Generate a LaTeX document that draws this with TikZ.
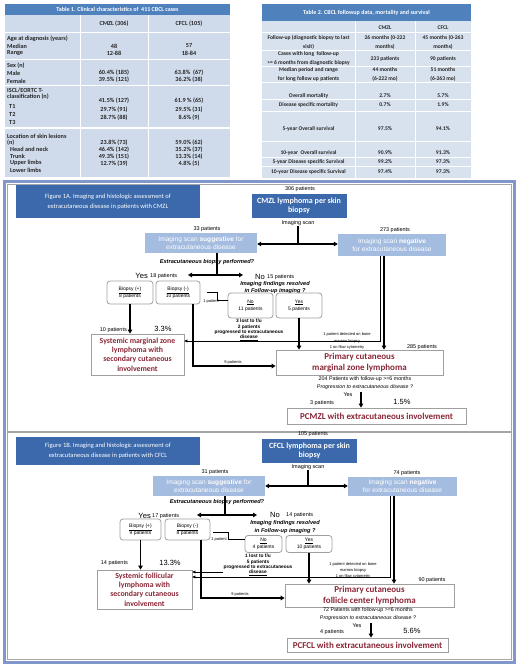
\documentclass[tikz,border=0pt]{standalone}
\usepackage{fontspec}
\setmainfont{Carlito}
\newfontfamily\arialfont{Liberation Sans}
\usetikzlibrary{arrows.meta,positioning}
\definecolor{tblheadc}{HTML}{4F81BD}
\definecolor{tblbodyc}{HTML}{CFDAEB}
\definecolor{tblbodyd}{HTML}{D8E1EE}
\definecolor{figbluec}{HTML}{3B69AB}
\definecolor{scanbluec}{HTML}{A4BCDF}
\definecolor{framec}{HTML}{8197CB}
\definecolor{redc}{HTML}{8A2636}
\newcommand{\fsz}[2]{\fontsize{#1}{#2}\selectfont}
\tikzset{
  tbltxt/.style={inner sep=0pt, font=\fsz{6.2}{7.4}\bfseries, text=black!85},
  tbltxtb/.style={inner sep=0pt, font=\fsz{5.6}{8.5}\bfseries, text=black!85, align=center},
  tbltitle/.style={inner sep=0pt, text=white, font=\fsz{6}{7}\bfseries},
  titlebox/.style={fill=figbluec, text=white, align=center, font=\fsz{6.5}{10}, inner sep=0pt},
  darkbox/.style={fill=figbluec, text=white, align=center, font=\fsz{8}{9.5}\bfseries, inner sep=0pt},
  scanbox/.style={fill=scanbluec, text=white, align=center, font=\arialfont\fsz{6.6}{8}, inner sep=0pt},
  bbox/.style={draw=gray!75, line width=0.8pt, rounded corners=3pt, align=center, font=\arialfont\fsz{5}{7}, inner sep=0pt},
  redbox/.style={draw=gray!75, line width=0.8pt, text=redc, align=center, font=\fsz{7.8}{9.3}\bfseries, inner sep=0pt},
  bigred/.style={redbox, font=\fsz{9}{10.5}\bfseries},
  smalltxt/.style={font=\arialfont\fsz{5.5}{6.5}, inner sep=0pt},
  tinytxt/.style={font=\arialfont\fsz{4}{6.2}, inner sep=0pt, align=center},
  progtxt/.style={font=\arialfont\fsz{4.8}{5.4}\bfseries, inner sep=0pt, align=center},
  quest/.style={font=\arialfont\fsz{5.6}{7.2}\bfseries\itshape, inner sep=0pt, align=center},
  fupt/.style={font=\arialfont\fsz{5.3}{8.3}, inner sep=0pt, align=center},
  yesno/.style={font=\arialfont\fsz{7.6}{9}, inner sep=0pt},
  pcttxt/.style={font=\arialfont\fsz{7.5}{9}, inner sep=0pt},
  mainline/.style={line width=1.5pt},
  mainarr/.style={line width=1.5pt, -{Triangle[length=4pt,width=4.5pt]}},
  thinline/.style={line width=0.5pt},
  thinarr/.style={line width=0.5pt, -{Triangle[length=3pt,width=3pt]}},
}
\begin{document}
\begin{tikzpicture}[x=1pt,y=-1pt]
  \useasboundingbox (0,0) rectangle (520,666);
  % Table 1
  \fill[tblheadc] (5,4) rectangle (230,15);
  \node[tbltitle] (t1title) at (117.5,9.5) {Table 1. Clinical characteristics of\ \ 411 CBCL cases};
  \fill[tblbodyc] (5,15) rectangle (230,177);
  \foreach \yy in {33,60,86,128} \draw[white,line width=1pt] (5,\yy) -- (230,\yy);
  \draw[white,line width=1pt] (80,15) -- (80,177) (148,15) -- (148,177);
  \node[tbltxt] (t1c2) at (114,24) {CMZL (306)};
  \node[tbltxt] (t1c3) at (189,24) {CFCL (105)};
  \foreach \txt/\xx/\yy [count=\i] in {Age at diagnosis (years)/7/39, Median/7/46, Range/7/53,
      Sex (n)/7/66, Male/7/73, Female/7/81, {ISCL/EORTC T-}/7/90, classification (n)/7/97,
      T1/9/106, T2/9/114, T3/9/122, Location of skin lesions/7/136, (n)/7/142.5,
      Head and neck/10/149, Trunk/10/156, Upper limbs/10/163, Lower limbs/10/170}
    \node[tbltxt,anchor=west] (t1l\i) at (\xx,\yy) {\txt};
  \foreach \va/\vb/\yy [count=\i] in {48/57/46, 12-88/18-84/53, 60.4\% (185)/63.8\%\ \ (67)/73,
      39.5\% (121)/36.2\% (38)/80, 41.5\% (127)/61.9 \% (65)/101, 29.7\% (91)/29.5\% (31)/110,
      28.7\% (88)/8.6\% (9)/118, 23.8\% (73)/59.0\% (62)/143, 46.4\% (142)/35.2\% (37)/150,
      49.3\% (151)/13.3\% (14)/157, 12.7\% (39)/4.8\% (5)/164}
  {
    \node[tbltxt] (t1a\i) at (114,\yy) {\va};
    \node[tbltxt] (t1b\i) at (189,\yy) {\vb};
  }

  % Table 2
  \fill[tblheadc] (262,4) rectangle (471,21);
  \node[tbltitle] (t2title) at (366.5,12.5) {Table 2. CBCL followup data, mortality and survival};
  \fill[tblbodyd] (262,21) rectangle (471,178);
  \foreach \yy in {33,51,67,83,100,112,141,157,166} \draw[white,line width=1pt] (262,\yy) -- (471,\yy);
  \draw[white,line width=1pt] (355,21) -- (355,178) (415,21) -- (415,178);
  \node[tbltxtb] (t2c2) at (385,27.5) {CMZL};
  \node[tbltxtb] (t2c3) at (443,27.5) {CFCL};
  \foreach \lab/\va/\vb/\yy [count=\i] in {
      {Follow-up (diagnostic biopsy to last\\visit)}/{26 months (0-222\\months)}/{45 months (0-263\\months)}/42.5,
      {Cases with long\ \ follow-up\\>= 6 months from diagnostic biopsy}/{233 patients}/{90 patients}/58.5,
      {Median period and range\\for long follow up patients}/{44 months\\(6-222 mo)}/{51 months\\(6-263 mo)}/74.5,
      {Overall mortality}/{2.7\%}/{5.7\%}/96,
      {Disease specific mortality}/{0.7\%}/{1.9\%}/105,
      {5-year Overall survival}/{97.5\%}/{94.1\%}/129,
      {10-year\ \ Overall survival}/{90.9\%}/{91.3\%}/152.5,
      {5-year Disease specific Survival}/{99.2\%}/{97.3\%}/162,
      {10-year Disease specific Survival}/{97.4\%}/{97.3\%}/171.5}
  {
    \node[tbltxtb] (t2l\i) at (308.5,\yy) {\lab};
    \node[tbltxtb] (t2a\i) at (385,\yy) {\va};
    \node[tbltxtb] (t2b\i) at (443,\yy) {\vb};
  }

  % frame of the two figures
  \draw[framec, line width=3pt] (4,181) rectangle (514,662);
  \draw[gray!70, line width=0.8pt] (7,184) rectangle (511,431);
  \draw[gray!70, line width=0.8pt] (7,432) rectangle (511,659);

  % Figure 1A
  \node[titlebox, minimum width=184, minimum height=33] (f1atitle) at (108,201.5)
    {Figure 1A. Imaging and histologic assessment of\\extracutaneous disease in patients with CMZL};
  \node[smalltxt] (p306) at (300,189.5) {306 patients};
  \node[darkbox, minimum width=95, minimum height=24] (cmzl) at (299,206) {CMZL lymphoma per skin\\biopsy};
  \node[smalltxt] (scan1a) at (298,223) {Imaging scan};
  \coordinate (j1a) at (298,244);
  \node[smalltxt] (p33) at (207,229) {33 patients};
  \node[scanbox, minimum width=112, minimum height=20] (sug1a) at (201,243)
    {Imaging scan \textbf{suggestive} for\\extracutaneous disease};
  \node[smalltxt] (p273) at (395,230) {273 patients};
  \node[scanbox, minimum width=108, minimum height=22] (neg1a) at (392,245)
    {Imaging scan \textbf{negative}\\for extracutaneous disease};
  \draw[mainline] (scan1a.south) -- (j1a);
  \draw[mainarr] (j1a) -- (sug1a.east |- j1a);
  \draw[mainarr] (j1a) -- (neg1a.west |- j1a);

  \node[quest] (bq1a) at (207,262) {Extracutaneous biopsy performed?};
  \coordinate (j2a) at (217,275);
  \coordinate (yesend1a) at (188,275);
  \coordinate (noend1a) at (243,275);
  \draw[mainline] (sug1a.south -| j2a) -- (j2a);
  \draw[mainarr] (j2a) -- (yesend1a);
  \draw[mainarr] (j2a) -- (noend1a);
  \node[yesno, anchor=east] (yes1a) at (148,276) {Yes};
  \node[smalltxt, anchor=west] (p18) at (150,276.5) {18 patients};
  \node[yesno, anchor=west] (no1a) at (255,276.5) {No};
  \node[smalltxt, anchor=west] (p15) at (267,277) {15 patients};
  \node[quest] (fq1a) at (275,287.5) {Imaging findings resolved\\in Follow-up imaging ?};

  \node[bbox, minimum width=46, minimum height=23] (bp1a) at (130,292.5) {\underline{Biopsy (+)}\\8 patients};
  \node[bbox, minimum width=44, minimum height=23] (bn1a) at (178,292.5) {\underline{Biopsy (-)}\\10 patients};
  \node[bbox, minimum width=45, minimum height=25] (fn1a) at (250.5,305.5) {\underline{No}\\11 patients};
  \node[bbox, minimum width=46, minimum height=25] (fy1a) at (299,305.5) {\underline{Yes}\\5 patients};
  \draw[thinline] ([xshift=7pt]bn1a.east) -- (217,292.5) -- (217,300) -- (fn1a.west |- 0,300);
  \node[tinytxt] (p1a) at (211,301.5) {1 patient};
  \node[progtxt] (lost1a) at (249,330) {3 lost to f/u\\2 patients\\progressed to extracutaneous\\\underline{disease}};

  \node[redbox, minimum width=93, minimum height=41] (sys1a) at (137.5,354.5)
    {Systemic marginal zone\\lymphoma with\\secondary cutaneous\\involvement};
  \node[smalltxt, anchor=east] (p10) at (127,330) {10 patients};
  \node[pcttxt] (pct1a) at (163,329) {3.3\%};
  \draw[mainarr] (bp1a.south) -- (bp1a.south |- sys1a.north);

  \node[bigred, minimum width=167, minimum height=25] (prim1a) at (359.5,362.5)
    {Primary cutaneous\\marginal zone lymphoma};
  \node[smalltxt] (p285) at (422,347) {285 patients};
  \node[tinytxt] (bm1a) at (347,341) {1 patient detected on bone\\marrow biopsy\\1 on flow cytometry};
  \draw[thinarr] (neg1a.south -| 380,0) -- (380,341) -- (sys1a.east |- 0,341);
  \draw[mainarr] (bn1a.south -| 193,0) -- (193,366) -- (prim1a.west |- 0,366);
  \node[tinytxt] (p9a) at (233,362) {9 patients};
  \draw[mainarr] (fy1a.south) -- (fy1a.south |- prim1a.north);
  \draw[mainarr] (neg1a.south -| 384,0) -- (prim1a.north -| 384,0);

  \node[fupt] (fu1a) at (365,383) {204 Patients with follow-up >=6 months\\\textit{Progression to extracutaneous disease ?}};
  \node[smalltxt] (yes1ap) at (348,395) {Yes};
  \coordinate (pr1astart) at (361,392);
  \node[smalltxt] (p3a) at (322,403) {3 patients};
  \node[pcttxt] (pct1ap) at (402,402) {1.5\%};
  \node[bigred, minimum width=179, minimum height=16] (pc1a) at (376.5,416) {PCMZL with extracutaneous involvement};
  \draw[mainarr] (pr1astart) -- (pc1a.north -| pr1astart);

  % Figure 1B
  \node[titlebox, minimum width=184, minimum height=28] (f1btitle) at (108,451)
    {Figure 1B. Imaging and histologic assessment of\\extracutaneous disease in patients with CFCL};
  \node[smalltxt] (p105) at (313,434.5) {105 patients};
  \node[darkbox, minimum width=95, minimum height=24] (cfcl) at (309.5,451) {CFCL lymphoma per skin\\biopsy};
  \node[smalltxt] (scan1b) at (308,467.5) {Imaging scan};
  \coordinate (j1b) at (308,486);
  \node[smalltxt] (p31) at (215,472) {31 patients};
  \node[scanbox, minimum width=112, minimum height=20] (sug1b) at (209,486)
    {Imaging scan \textbf{suggestive} for\\extracutaneous disease};
  \node[smalltxt] (p74) at (407,473) {74 patients};
  \node[scanbox, minimum width=109, minimum height=19] (neg1b) at (402.5,486.5)
    {Imaging scan \textbf{negative}\\for extracutaneous disease};
  \draw[mainline] (scan1b.south) -- (j1b);
  \draw[mainarr] (j1b) -- (sug1b.east |- j1b);
  \draw[mainarr] (j1b) -- (neg1b.west |- j1b);

  \node[quest] (bq1b) at (217,502) {Extracutaneous biopsy performed?};
  \coordinate (j2b) at (225,515);
  \coordinate (yesend1b) at (197,515);
  \coordinate (noend1b) at (257,515);
  \draw[mainline] (sug1b.south -| j2b) -- (j2b);
  \draw[mainarr] (j2b) -- (yesend1b);
  \draw[mainarr] (j2b) -- (noend1b);
  \node[yesno, anchor=east] (yes1b) at (151,515.5) {Yes};
  \node[smalltxt, anchor=west] (p17) at (152,516) {17 patients};
  \node[yesno, anchor=west] (no1b) at (270,515) {No};
  \node[smalltxt, anchor=west] (p14) at (286,515.5) {14 patients};
  \node[quest] (fq1b) at (285,527) {Imaging findings resolved\\in Follow-up imaging ?};

  \node[bbox, minimum width=41, minimum height=21] (bp1b) at (140.5,529.5) {\underline{Biopsy (+)}\\9 patients};
  \node[bbox, minimum width=45, minimum height=21] (bn1b) at (187.5,529.5) {\underline{Biopsy (-)}\\8 patients};
  \node[bbox, minimum width=37, minimum height=17] (fn1b) at (263.5,544) {\underline{No}\\4 patients};
  \node[bbox, minimum width=46, minimum height=17] (fy1b) at (309,544) {\underline{Yes}\\10 patients};
  \draw[thinline] ([xshift=3pt]bn1b.east |- 0,532) -- (228,532) -- (228,539) -- (fn1b.west |- 0,539);
  \node[tinytxt] (p1b) at (219,539.5) {1 patient};
  \node[progtxt] (lost1b) at (258,565) {1 lost to f/u\\5 patients\\progressed to extracutaneous\\\underline{disease}};

  \node[redbox, minimum width=95, minimum height=39] (sys1b) at (144.5,589.5)
    {Systemic follicular\\lymphoma with\\secondary cutaneous\\involvement};
  \node[smalltxt, anchor=east] (p14b) at (128,563) {14 patients};
  \node[pcttxt] (pct1b) at (170,563) {13.3\%};
  \draw[mainarr] (bp1b.south) -- (bp1b.south |- sys1b.north);

  \node[bigred, minimum width=169, minimum height=23] (prim1b) at (369.5,595.5)
    {Primary cutaneous\\follicle center lymphoma};
  \node[smalltxt] (p90) at (432,580) {90 patients};
  \node[tinytxt] (bm1b) at (353,570.5) {1 patient detected on bone\\marrow biopsy\\1 on flow cytometry};
  \draw[thinarr] (lost1b.west |- 0,572) -- (sys1b.east |- 0,572);
  \draw[thinarr] (neg1b.south -| 390,0) -- (390,577) -- (sys1b.east |- 0,577);
  \draw[mainarr] (bn1b.south -| 201,0) -- (201,598) -- (prim1b.west |- 0,598);
  \node[tinytxt] (p9b) at (240,594) {9 patients};
  \draw[mainarr] (fy1b.south) -- (fy1b.south |- prim1b.north);
  \draw[mainarr] (neg1b.south -| 394,0) -- (prim1b.north -| 394,0);

  \node[fupt] (fu1b) at (368,614) {72 Patients with follow-up >=6 months\\\textit{Progression to extracutaneous disease ?}};
  \node[smalltxt] (yes1bp) at (357,626) {Yes};
  \coordinate (pr1bstart) at (371,623);
  \node[smalltxt] (p4b) at (332,632) {4 patients};
  \node[pcttxt] (pct1bp) at (412,631) {5.6\%};
  \node[bigred, minimum width=161, minimum height=14] (pc1b) at (367.5,645) {PCFCL with extracutaneous involvement};
  \draw[mainarr] (pr1bstart) -- (pc1b.north -| pr1bstart);
\end{tikzpicture}
\end{document}
